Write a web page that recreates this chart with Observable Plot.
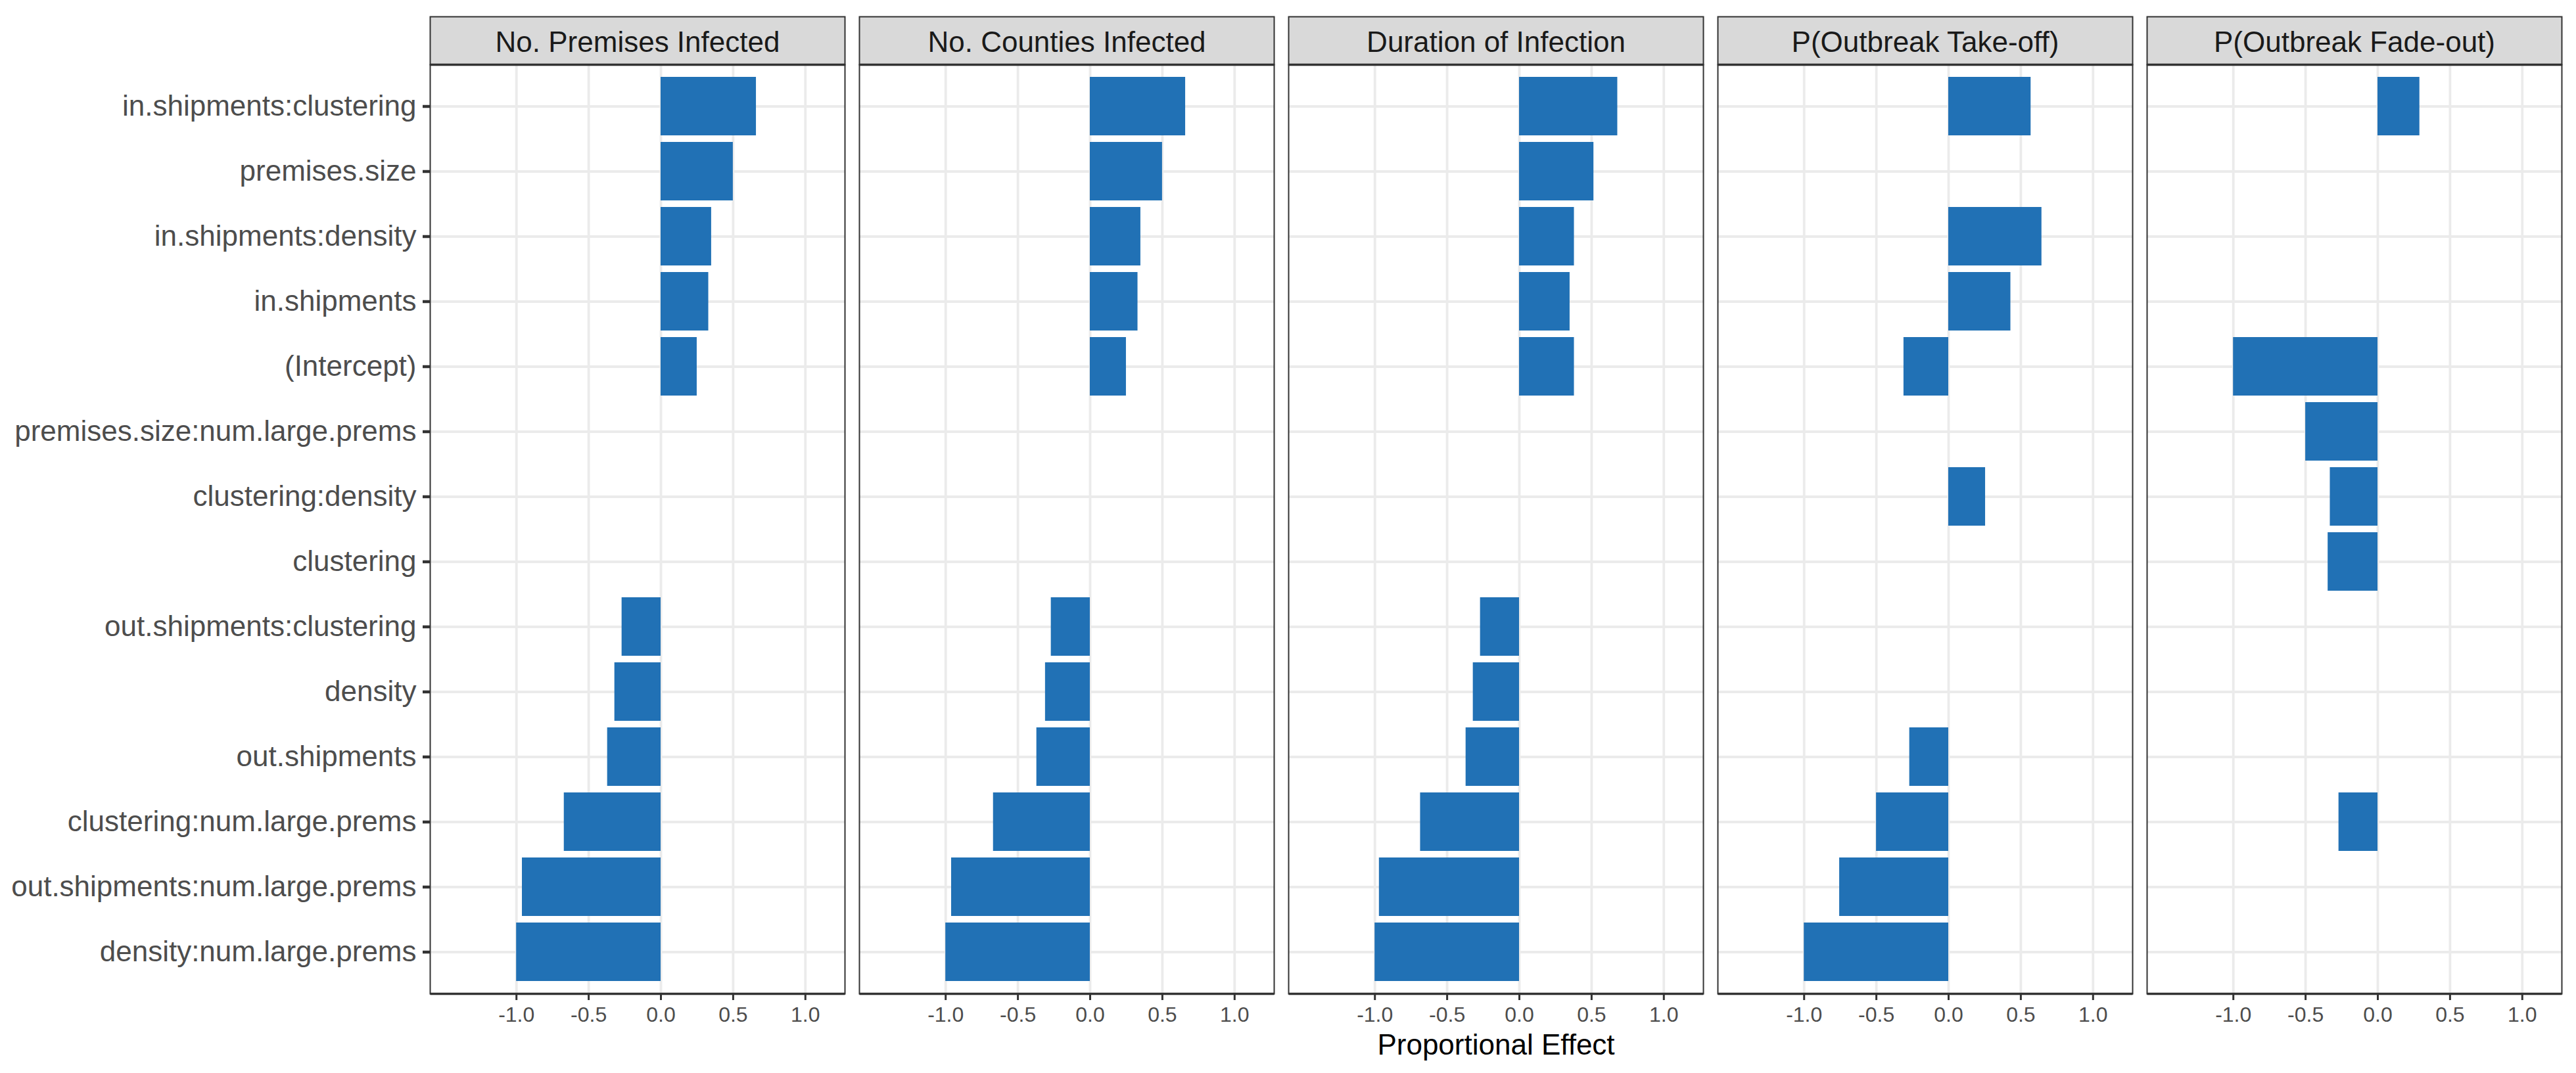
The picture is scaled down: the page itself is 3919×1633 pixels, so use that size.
<!DOCTYPE html>
<html>
<head>
<meta charset="utf-8">
<script src="https://cdn.jsdelivr.net/npm/d3@7"></script>
<script src="https://cdn.jsdelivr.net/npm/@observablehq/plot@0.6"></script>
<style>
  html, body { margin: 0; padding: 0; background: white; }
  #chart { width: 3919px; height: 1633px; }
</style>
</head>
<body>
<div id="chart"></div>
<script>
// Categories (top to bottom)
const terms = [
  "in.shipments:clustering",
  "premises.size",
  "in.shipments:density",
  "in.shipments",
  "(Intercept)",
  "premises.size:num.large.prems",
  "clustering:density",
  "clustering",
  "out.shipments:clustering",
  "density",
  "out.shipments",
  "clustering:num.large.prems",
  "out.shipments:num.large.prems",
  "density:num.large.prems"
];

// Facet panels
const panels = [
  "No. Premises Infected",
  "No. Counties Infected",
  "Duration of Infection",
  "P(Outbreak Take-off)",
  "P(Outbreak Fade-out)"
];

// Series values (same order as terms; null = no bar)
const premisesInfected  = [0.66, 0.50, 0.35, 0.33, 0.25, null, null, null, -0.27, -0.32, -0.37, -0.67, -0.96, -1.00];
const countiesInfected  = [0.66, 0.50, 0.35, 0.33, 0.25, null, null, null, -0.27, -0.31, -0.37, -0.67, -0.96, -1.00];
const durationInfection = [0.68, 0.515, 0.38, 0.35, 0.38, null, null, null, -0.27, -0.32, -0.37, -0.685, -0.97, -1.00];
const takeOff           = [0.57, null, 0.645, 0.43, -0.31, null, 0.255, null, null, null, -0.27, -0.50, -0.755, -1.00];
const fadeOut           = [0.29, null, null, null, -1.00, -0.50, -0.33, -0.345, null, null, null, -0.27, null, null];

// Axis ticks
const xTicks = [-1, -0.5, 0, 0.5, 1];
const xTitle = "Proportional Effect";

const series = [premisesInfected, countiesInfected, durationInfection, takeOff, fadeOut];
const data = [];
panels.forEach((p, i) => {
  series[i].forEach((v, j) => {
    if (v !== null) data.push({panel: p, term: terms[j], value: v});
  });
});

const W = 3919, H = 1633;
const mTop = 98, mBottom = 121, mLeft = 652, mRight = 19;
const panelH = H - mTop - mBottom;
const stripH = 73;

const chart = Plot.plot({
  width: W,
  height: H,
  marginTop: mTop,
  marginBottom: mBottom,
  marginLeft: mLeft,
  marginRight: mRight,
  style: {fontFamily: "'Liberation Sans', Arial, sans-serif", background: "white", overflow: "visible"},
  fx: {domain: panels, paddingInner: 0.0336, paddingOuter: 0, axis: null, label: null},
  x: {domain: [-1.597, 1.274], label: null},
  y: {type: "band", domain: terms, paddingInner: 0.1, paddingOuter: 0.15, align: 0.5, label: null},
  marks: [
    // strip background
    Plot.frame({fill: "#D9D9D9", stroke: "#333333", strokeWidth: 2, insetTop: -stripH, insetBottom: panelH}),
    // grid
    Plot.gridX({ticks: xTicks, stroke: "#EBEBEB", strokeOpacity: 1, strokeWidth: 3.8}),
    Plot.gridY({stroke: "#EBEBEB", strokeOpacity: 1, strokeWidth: 3.8}),
    // bars
    Plot.barX(data, {x: "value", y: "term", fx: "panel", fill: "#2171B5"}),
    // panel border
    Plot.frame({stroke: "#333333", strokeWidth: 2}),
    // thick strip-bottom and axis lines
    Plot.frame({fill: "#333333", stroke: "none", insetTop: -1.75, insetBottom: panelH - 1.75}),
    Plot.frame({fill: "#333333", stroke: "none", insetTop: panelH - 1.75, insetBottom: -1.75}),
    // strip text
    Plot.text(panels, {fx: d => d, text: d => d, frameAnchor: "top", lineAnchor: "middle", dy: -34,
                       fontSize: 44, fill: "#1A1A1A"}),
    // axes
    Plot.axisX({ticks: xTicks, tickFormat: d => d.toFixed(1), tickSize: 10, tickPadding: 10, fontSize: 32,
                fill: "#4D4D4D", stroke: "#333333", strokeWidth: 3, label: null}),
    Plot.axisY({tickSize: 11, tickPadding: 10, fontSize: 44, fill: "#4D4D4D", stroke: "#333333", strokeWidth: 4.5, label: null}),
    // x axis title (centred under the middle panel = centre of the panel area)
    Plot.text([xTitle], {fx: () => panels[2], text: d => d, frameAnchor: "bottom", lineAnchor: "middle", dy: 78,
                         fontSize: 44, fill: "#000000"})
  ]
});

document.getElementById("chart").appendChild(chart);
</script>
</body>
</html>
